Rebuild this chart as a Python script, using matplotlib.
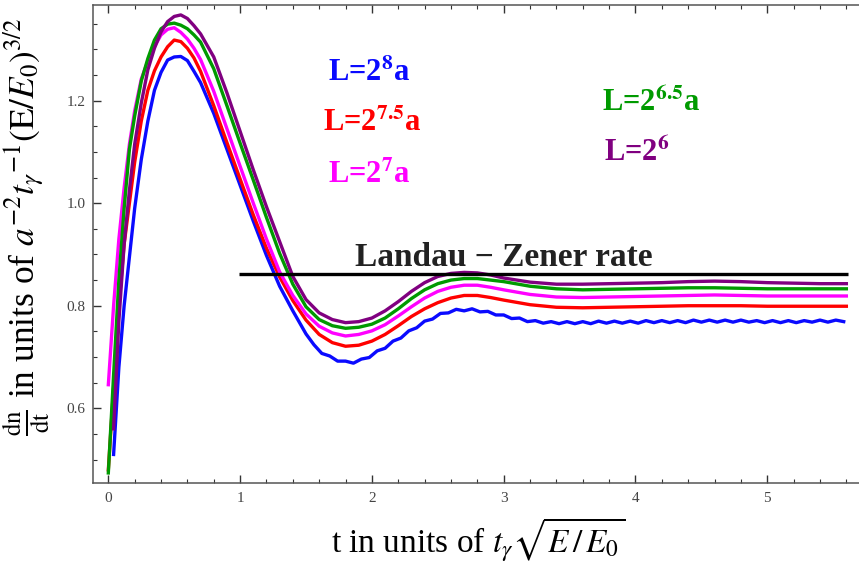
import numpy as np
import matplotlib
matplotlib.use("Agg")
import matplotlib.pyplot as plt
from matplotlib.ticker import MultipleLocator

plt.rcParams["font.family"] = "serif"
plt.rcParams["font.serif"] = ["Liberation Serif", "DejaVu Serif"]
plt.rcParams["mathtext.fontset"] = "stix"

# time grid (units of t_gamma sqrt(E/E0)) shared by the smooth curves
t = [0.0, 0.04, 0.08, 0.12, 0.16, 0.2, 0.25, 0.3, 0.35, 0.4, 0.45, 0.5, 0.55,
     0.6, 0.65, 0.7, 0.8, 0.9, 1.0, 1.1, 1.2, 1.3, 1.4, 1.5, 1.6, 1.7, 1.8,
     1.9, 2.0, 2.1, 2.2, 2.3, 2.4, 2.5, 2.6, 2.7, 2.8, 2.9, 3.0, 3.2, 3.4,
     3.6, 3.8, 4.0, 4.2, 4.4, 4.6, 4.8, 5.0, 5.2, 5.4, 5.6]

rate_L75 = [0.48, 0.64, 0.80, 0.92, 1.00, 1.08, 1.16, 1.22, 1.258, 1.285, 1.305, 1.318, 1.315,
            1.302, 1.283, 1.257, 1.19, 1.118, 1.047, 0.977, 0.912, 0.856, 0.81, 0.772, 0.744, 0.728, 0.721,
            0.723, 0.731, 0.744, 0.761, 0.779, 0.794, 0.806, 0.815, 0.820, 0.820, 0.816, 0.811, 0.802, 0.797,
            0.796, 0.797, 0.798, 0.799, 0.800, 0.800, 0.800, 0.799, 0.799, 0.799, 0.799]

rate_L7 = [0.646, 0.80, 0.93, 1.03, 1.115, 1.18, 1.242, 1.277, 1.305, 1.328, 1.339, 1.342, 1.333,
           1.32, 1.302, 1.28, 1.218, 1.145, 1.072, 1.0, 0.93, 0.866, 0.82, 0.784, 0.760, 0.747, 0.741,
           0.744, 0.751, 0.763, 0.780, 0.798, 0.815, 0.828, 0.836, 0.840, 0.840, 0.836, 0.831, 0.822, 0.817,
           0.816, 0.817, 0.818, 0.819, 0.820, 0.821, 0.820, 0.819, 0.819, 0.819, 0.819]

rate_L65 = [0.474, 0.665, 0.85, 0.99, 1.105, 1.17, 1.238, 1.282, 1.318, 1.340, 1.349, 1.351, 1.347,
            1.340, 1.328, 1.314, 1.262, 1.19, 1.117, 1.045, 0.972, 0.902, 0.842, 0.798, 0.773, 0.761, 0.756,
            0.758, 0.764, 0.776, 0.794, 0.814, 0.831, 0.843, 0.850, 0.853, 0.853, 0.850, 0.847, 0.838, 0.833,
            0.831, 0.832, 0.833, 0.834, 0.835, 0.835, 0.834, 0.833, 0.833, 0.833, 0.833]

rate_L6 = [np.nan, 0.56, 0.77, 0.92, 1.025, 1.115, 1.195, 1.26, 1.302, 1.334, 1.354, 1.364, 1.367,
           1.360, 1.346, 1.330, 1.285, 1.215, 1.140, 1.065, 0.993, 0.925, 0.857, 0.812, 0.786, 0.773, 0.767,
           0.769, 0.776, 0.790, 0.808, 0.828, 0.845, 0.857, 0.863, 0.865, 0.864, 0.860, 0.854, 0.846, 0.842,
           0.842, 0.843, 0.844, 0.845, 0.847, 0.848, 0.847, 0.845, 0.844, 0.843, 0.843]

# L = 2^8 a curve, wiggly tail sampled more finely
t_L8_head = [0.04, 0.08, 0.12, 0.16, 0.2, 0.25, 0.3, 0.35, 0.4, 0.45, 0.5, 0.55, 0.6,
             0.65, 0.7, 0.8, 0.9, 1.0, 1.1, 1.2, 1.3, 1.4, 1.5]
rate_L8_head = [0.51, 0.68, 0.80, 0.895, 0.99, 1.085, 1.16, 1.22, 1.255, 1.279, 1.285, 1.286, 1.278,
                1.257, 1.235, 1.175, 1.105, 1.035, 0.965, 0.898, 0.838, 0.79, 0.745]
rate_L8_tail = [0.724, 0.707, 0.702, 0.692, 0.692, 0.688, 0.696, 0.699, 0.712, 0.717, 0.731, 0.737,
                0.751, 0.757, 0.770, 0.774, 0.785, 0.786, 0.793, 0.790, 0.794, 0.788, 0.789, 0.782,
                0.782, 0.775, 0.776, 0.769, 0.771, 0.766, 0.769, 0.765, 0.769, 0.765, 0.769, 0.765,
                0.770, 0.766, 0.770, 0.766, 0.770, 0.766, 0.771, 0.767, 0.771, 0.767, 0.771, 0.767,
                0.772, 0.768, 0.772, 0.768, 0.772, 0.768, 0.772, 0.768, 0.771, 0.767, 0.771, 0.767,
                0.771, 0.767, 0.771, 0.768, 0.772, 0.768, 0.772, 0.769]
t_L8_tail = list(np.round(1.56 + 0.06 * np.arange(len(rate_L8_tail)), 2))

lz_rate = 0.862
lz_t = [0.99, 5.61]

fig = plt.figure(figsize=(8.59, 5.65), dpi=100)
ax = fig.add_axes([0.108, 0.1457, 0.892, 0.8457])

lw = 2.4
ax.plot(t_L8_head + t_L8_tail, rate_L8_head + rate_L8_tail, color="#0a0aff", lw=lw)
ax.plot(t, rate_L75, color="#ff0000", lw=lw)
ax.plot(t, rate_L7, color="#ff00ff", lw=lw)
ax.plot(t, rate_L65, color="#009a00", lw=lw)
ax.plot(t, rate_L6, color="#800080", lw=lw)
ax.plot(lz_t, [lz_rate, lz_rate], color="black", lw=lw, solid_capstyle="butt")

ax.set_xlim(-0.118, 5.696)
ax.set_ylim(0.455, 1.3866)
ax.xaxis.set_major_locator(MultipleLocator(1))
ax.xaxis.set_minor_locator(MultipleLocator(0.2))
ax.yaxis.set_major_locator(MultipleLocator(0.2))
ax.yaxis.set_minor_locator(MultipleLocator(0.05))
ax.xaxis.set_major_formatter(plt.FuncFormatter(lambda v, p: f"{v:.0f}"))
ax.yaxis.set_major_formatter(plt.FuncFormatter(lambda v, p: f"{v:.1f}"))

ax.spines["right"].set_visible(False)
for s in ["left", "bottom", "top"]:
    ax.spines[s].set_color("#555555")
    ax.spines[s].set_linewidth(1.1)
ax.tick_params(which="both", direction="in", top=True, right=False, color="#333333",
               labelcolor="#444444", labelsize=11)
ax.tick_params(which="major", length=5.5, width=1.0)
ax.tick_params(which="minor", length=3.0, width=0.8)
ax.tick_params(axis="x", pad=7)
ax.tick_params(axis="y", pad=5)

ax.set_xlabel(r"t in units of $t_{\gamma}\sqrt{E\,/\,E_0}$", fontsize=24)
ax.set_ylabel(r"$\frac{\mathrm{dn}}{\mathrm{dt}}$ in units of $a^{-2}t_{\gamma}{}^{-1}(\mathrm{E}/E_0)^{3/2}$",
              fontsize=25.5)
ax.xaxis.set_label_coords(0.503, -0.068)
ax.yaxis.set_label_coords(-0.052, 0.535)

fig.text(0.5867, 0.5292, "Landau \u2212 Zener rate", fontsize=24, fontweight="bold",
         color="#222222", ha="center", va="baseline")
fig.text(0.3818, 0.8572, r"L=2$^{\mathbf{8}}$a", fontsize=22, fontweight="bold", color="#0a0aff", va="baseline")
fig.text(0.3760, 0.7687, r"L=2$^{\mathbf{7.5}}$a", fontsize=22, fontweight="bold", color="#ff0000", va="baseline")
fig.text(0.3818, 0.6767, r"L=2$^{\mathbf{7}}$a", fontsize=22, fontweight="bold", color="#ff00ff", va="baseline")
fig.text(0.7005, 0.8041, r"L=2$^{\mathbf{6.5}}$a", fontsize=22, fontweight="bold", color="#009a00", va="baseline")
fig.text(0.7031, 0.7156, r"L=2$^{\mathbf{6}}$", fontsize=22, fontweight="bold", color="#800080", va="baseline")

fig.savefig("out.png", dpi=100)
